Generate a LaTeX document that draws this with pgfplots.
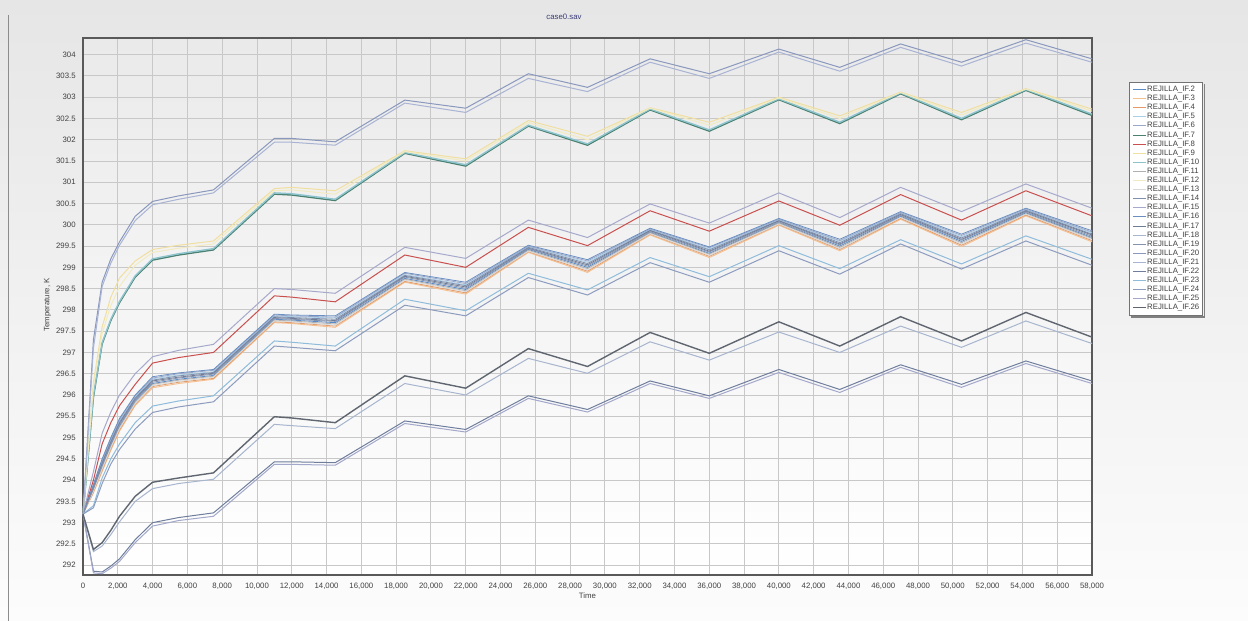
\documentclass[border=0pt]{standalone}
\usepackage{pgfplots}
\pgfplotsset{compat=1.18}
\usepackage{pgfplotstable}
\usepackage{fontspec}
\setmainfont{Liberation Sans}

\definecolor{c2}{HTML}{5B8BC6}
\definecolor{c3}{HTML}{F5C090}
\definecolor{c4}{HTML}{E49A68}
\definecolor{c5}{HTML}{A8D0E8}
\definecolor{c6}{HTML}{9AA8CC}
\definecolor{c7}{HTML}{4A8070}
\definecolor{c8}{HTML}{C9504F}
\definecolor{c9}{HTML}{F0DFA0}
\definecolor{c10}{HTML}{8CC3CC}
\definecolor{c11}{HTML}{B0B0B0}
\definecolor{c12}{HTML}{F2EBC0}
\definecolor{c13}{HTML}{D8D8D8}
\definecolor{c14}{HTML}{7F8FAE}
\definecolor{c15}{HTML}{A6A9CC}
\definecolor{c16}{HTML}{6A8FC0}
\definecolor{c17}{HTML}{6E7C96}
\definecolor{c18}{HTML}{A7B5CF}
\definecolor{c19}{HTML}{8592AE}
\definecolor{c20}{HTML}{8A98BE}
\definecolor{c21}{HTML}{A9B3D3}
\definecolor{c22}{HTML}{6F7E9D}
\definecolor{c23}{HTML}{8FBCDB}
\definecolor{c24}{HTML}{8C9BBE}
\definecolor{c25}{HTML}{A3A8CB}
\definecolor{c26}{HTML}{5F6670}
\definecolor{titleblue}{HTML}{3A3A7A}
\definecolor{txt}{HTML}{404040}

\pgfplotstableread{
t s20 s21
0 293.2 293.2
600 297.3 297.1
1100 298.65 298.55
1600 299.2 299.1
2100 299.6 299.52
3000 300.2 300.1
4000 300.55 300.47
5500 300.68 300.6
7500 300.82 300.75
11000 302.03 301.94
12000 302.03 301.94
14500 301.95 301.87
18500 302.93 302.86
22000 302.74 302.64
25600 303.55 303.44
29000 303.23 303.13
32600 303.90 303.82
36000 303.55 303.44
40000 304.13 304.06
43500 303.70 303.61
47000 304.25 304.17
50500 303.82 303.73
54200 304.35 304.27
58000 303.90 303.82
}\tabA

\pgfplotstableread{
t s7 s9 s10 s12
0 293.2 293.2 293.2 293.2
600 295.95 296.3 296.0 296.2
1100 297.2 297.6 297.23 297.45
1600 297.75 298.3 297.78 298.1
2100 298.17 298.75 298.2 298.55
3000 298.77 299.15 298.8 299.05
4000 299.17 299.42 299.2 299.35
5500 299.29 299.52 299.32 299.45
7500 299.41 299.62 299.44 299.55
11000 300.72 300.85 300.75 300.8
12000 300.70 300.88 300.73 300.82
14500 300.57 300.80 300.60 300.72
18500 301.68 301.74 301.70 301.72
22000 301.38 301.55 301.41 301.5
25600 302.32 302.45 302.34 302.4
29000 301.87 302.08 301.90 302.0
32600 302.70 302.75 302.72 302.74
36000 302.20 302.41 302.23 302.34
40000 302.94 303.0 302.96 302.98
43500 302.38 302.56 302.41 302.5
47000 303.08 303.12 303.10 303.11
50500 302.47 302.64 302.50 302.58
54200 303.16 303.2 303.18 303.19
58000 302.57 302.72 302.60 302.67
}\tabB

\pgfplotstableread{
t s8 s15 s23 s24
0 293.2 293.2 293.2 293.2
600 294.0 294.2 293.4 293.35
1100 294.85 295.1 294.05 293.92
1600 295.35 295.6 294.5 294.38
2100 295.75 296.0 294.85 294.72
3000 296.25 296.5 295.35 295.2
4000 296.75 296.9 295.74 295.59
5500 296.88 297.05 295.86 295.72
7500 297.0 297.19 295.98 295.84
11000 298.33 298.50 297.27 297.15
12000 298.30 298.48 297.24 297.12
14500 298.19 298.39 297.15 297.04
18500 299.29 299.47 298.25 298.11
22000 299.0 299.21 297.98 297.86
25600 299.94 300.11 298.86 298.76
29000 299.51 299.70 298.47 298.35
32600 300.33 300.49 299.23 299.11
36000 299.85 300.04 298.78 298.65
40000 300.56 300.75 299.51 299.39
43500 299.99 300.17 298.97 298.84
47000 300.71 300.88 299.65 299.55
50500 300.11 300.31 299.08 298.96
54200 300.80 300.96 299.74 299.62
58000 300.21 300.39 299.19 299.05
}\tabC

\pgfplotstableread{
t s16 s6 s5 s14 s17 s19 s2 s11 s13 s4 s3
0 293.2 293.2 293.2 293.2 293.2 293.2 293.2 293.2 293.2 293.2 293.2
600 293.9 293.88 293.86 293.84 293.82 293.80 293.78 293.76 293.74 293.72 293.70
1100 294.5 294.47 294.44 294.41 294.38 294.35 294.32 294.29 294.26 294.23 294.20
1600 295.0 294.97 294.94 294.91 294.88 294.85 294.82 294.79 294.76 294.73 294.70
2100 295.45 295.42 295.39 295.36 295.33 295.30 295.27 295.24 295.21 295.18 295.15
3000 296.0 295.98 295.95 295.93 295.90 295.88 295.85 295.83 295.80 295.78 295.75
4000 296.43 296.40 296.38 296.35 296.33 296.30 296.27 296.25 296.22 296.20 296.17
5500 296.52 296.50 296.47 296.45 296.42 296.40 296.37 296.35 296.32 296.30 296.27
7500 296.60 296.58 296.55 296.53 296.51 296.49 296.46 296.44 296.42 296.39 296.37
11000 297.90 297.88 297.86 297.84 297.82 297.80 297.78 297.76 297.74 297.72 297.70
12000 297.88 297.86 297.84 297.82 297.80 297.78 297.76 297.74 297.72 297.70 297.68
14500 297.86 297.83 297.81 297.78 297.75 297.73 297.70 297.67 297.64 297.62 297.59
18500 298.88 298.86 298.83 298.81 298.79 298.77 298.74 298.72 298.70 298.67 298.65
22000 298.65 298.62 298.59 298.57 298.54 298.51 298.48 298.45 298.43 298.40 298.37
25600 299.52 299.50 299.49 299.47 299.45 299.44 299.42 299.40 299.38 299.37 299.35
29000 299.18 299.15 299.12 299.09 299.06 299.03 299.00 298.97 298.94 298.91 298.88
32600 299.92 299.90 299.89 299.87 299.86 299.84 299.82 299.81 299.79 299.78 299.76
36000 299.48 299.46 299.43 299.41 299.38 299.36 299.33 299.31 299.28 299.26 299.23
40000 300.15 300.13 300.12 300.10 300.09 300.07 300.05 300.04 300.02 300.01 299.99
43500 299.66 299.63 299.61 299.58 299.55 299.53 299.50 299.47 299.44 299.42 299.39
47000 300.31 300.29 300.27 300.26 300.24 300.22 300.20 300.18 300.17 300.15 300.13
50500 299.78 299.75 299.72 299.69 299.66 299.64 299.61 299.58 299.55 299.52 299.49
54200 300.39 300.37 300.35 300.34 300.32 300.30 300.28 300.26 300.25 300.23 300.21
58000 299.86 299.83 299.81 299.78 299.76 299.73 299.70 299.68 299.65 299.63 299.60
}\tabK

\pgfplotstableread{
t s18 s22 s25 s26
0 293.2 293.2 293.2 293.2
600 292.32 291.86 291.82 292.37
1100 292.45 291.84 291.80 292.53
1600 292.72 291.98 291.93 292.82
2100 293.02 292.15 292.09 293.15
3000 293.5 292.6 292.53 293.62
4000 293.8 293.0 292.92 293.95
5500 293.92 293.12 293.05 294.05
7500 294.02 293.23 293.15 294.17
11000 295.31 294.43 294.37 295.49
12000 295.28 294.43 294.37 295.46
14500 295.21 294.41 294.35 295.35
18500 296.27 295.39 295.33 296.45
22000 296.0 295.19 295.13 296.16
25600 296.86 295.98 295.92 297.09
29000 296.51 295.66 295.60 296.67
32600 297.25 296.33 296.27 297.47
36000 296.82 295.98 295.92 296.98
40000 297.48 296.60 296.53 297.72
43500 297.0 296.13 296.06 297.15
47000 297.62 296.71 296.65 297.84
50500 297.12 296.25 296.18 297.27
54200 297.74 296.80 296.74 297.94
58000 297.21 296.33 296.27 297.36
}\tabD

\newcommand{\smallf}{\fontsize{3.9}{4.5}\selectfont}

\begin{document}
\begin{tikzpicture}
\shade[top color={rgb,255:red,230;green,230;blue,230}, bottom color={rgb,255:red,252;green,252;blue,252}] (0,0) rectangle (624pt,310.5pt);
\draw[black!45, line width=0.5pt] (4pt,0) -- (4pt,303pt);
\begin{axis}[
  at={(41.5pt,23pt)}, anchor=south west,
  scale only axis, width=504.5pt, height=268.5pt,
  xmin=0, xmax=58000, ymin=291.77, ymax=304.39,
  xtick={0,2000,...,58000},
  ytick={292,292.5,...,304},
  scaled x ticks=false, scaled y ticks=false,
  /pgf/number format/assume math mode=true,
  /pgf/number format/1000 sep={,},
  tick label style={font=\smallf, text=txt, inner sep=0pt},
  yticklabel style={xshift=-3.5pt},
  xticklabel style={yshift=-4pt},
  tick style={draw=none},
  grid=major,
  major grid style={draw={rgb,255:red,200;green,200;blue,200}, line width=0.45pt},
  axis line style={draw=black!65, line width=0.7pt},
  axis background/.style={top color={rgb,255:red,234;green,234;blue,234}, bottom color=white},
  title={case0.sav},
  title style={at={(axis description cs:0.4767,1)}, anchor=center, yshift=4.5pt, inner sep=0pt, font=\smallf, text=titleblue},
  xlabel={Time},
  every axis x label/.style={at={(axis description cs:0.5,0)}, anchor=center, yshift=-10.5pt, inner sep=0pt, font=\smallf, text=txt},
  ylabel={Temperature, K},
  every axis y label/.style={at={(axis description cs:-0.0352,0.503)}, anchor=center, rotate=90, inner sep=0pt, font=\smallf, text=txt},
  legend style={name=leg, at={(axis description cs:1,1)}, anchor=north west, xshift=18.6pt, yshift=-21.8pt,
    font=\smallf, text=txt, draw=black!55, fill=white, line width=0.4pt,
    inner xsep=1.5pt, inner ysep=1.5pt, row sep=0pt,
    nodes={inner sep=0.3pt, text height=3pt, text depth=0.95pt}},
  legend cell align=left,
  legend image code/.code={\draw[#1, line width=0.5pt] (0pt,0pt) -- (6.5pt,0pt);},
  every axis plot/.append style={line width=0.5pt},
]
\addplot[c2, line width=0.4pt] table[x=t,y=s2]{\tabK};
\addplot[c3, line width=0.45pt] table[x=t,y=s3]{\tabK};
\addplot[c4, line width=0.4pt] table[x=t,y=s4]{\tabK};
\addplot[c5, line width=0.4pt] table[x=t,y=s5]{\tabK};
\addplot[c6, line width=0.4pt] table[x=t,y=s6]{\tabK};
\addplot[c7, line width=0.7pt] table[x=t,y=s7]{\tabB};
\addplot[c8] table[x=t,y=s8]{\tabC};
\addplot[c9] table[x=t,y=s9]{\tabB};
\addplot[c10, line width=0.7pt] table[x=t,y=s10]{\tabB};
\addplot[c11, line width=0.4pt] table[x=t,y=s11]{\tabK};
\addplot[c12] table[x=t,y=s12]{\tabB};
\addplot[c13, line width=0.4pt] table[x=t,y=s13]{\tabK};
\addplot[c14, line width=0.4pt] table[x=t,y=s14]{\tabK};
\addplot[c15] table[x=t,y=s15]{\tabC};
\addplot[c16, line width=0.4pt] table[x=t,y=s16]{\tabK};
\addplot[c17, line width=0.4pt] table[x=t,y=s17]{\tabK};
\addplot[c18] table[x=t,y=s18]{\tabD};
\addplot[c19, line width=0.4pt] table[x=t,y=s19]{\tabK};
\addplot[c20] table[x=t,y=s20]{\tabA};
\addplot[c21] table[x=t,y=s21]{\tabA};
\addplot[c22] table[x=t,y=s22]{\tabD};
\addplot[c23] table[x=t,y=s23]{\tabC};
\addplot[c24] table[x=t,y=s24]{\tabC};
\addplot[c25] table[x=t,y=s25]{\tabD};
\addplot[c26, line width=0.7pt] table[x=t,y=s26]{\tabD};
\legend{REJILLA\_IF.2,REJILLA\_IF.3,REJILLA\_IF.4,REJILLA\_IF.5,REJILLA\_IF.6,REJILLA\_IF.7,REJILLA\_IF.8,REJILLA\_IF.9,REJILLA\_IF.10,REJILLA\_IF.11,REJILLA\_IF.12,REJILLA\_IF.13,REJILLA\_IF.14,REJILLA\_IF.15,REJILLA\_IF.16,REJILLA\_IF.17,REJILLA\_IF.18,REJILLA\_IF.19,REJILLA\_IF.20,REJILLA\_IF.21,REJILLA\_IF.22,REJILLA\_IF.23,REJILLA\_IF.24,REJILLA\_IF.25,REJILLA\_IF.26}
\end{axis}
\draw[black!50, line width=0.9pt] ([xshift=0.65pt,yshift=-1pt]leg.north east) -- ([xshift=0.65pt,yshift=-0.45pt]leg.south east) -- ([xshift=1pt,yshift=-0.45pt]leg.south west);
\pgfresetboundingbox
\path[use as bounding box] (0,0) rectangle (624pt,310.5pt);
\end{tikzpicture}
\end{document}
